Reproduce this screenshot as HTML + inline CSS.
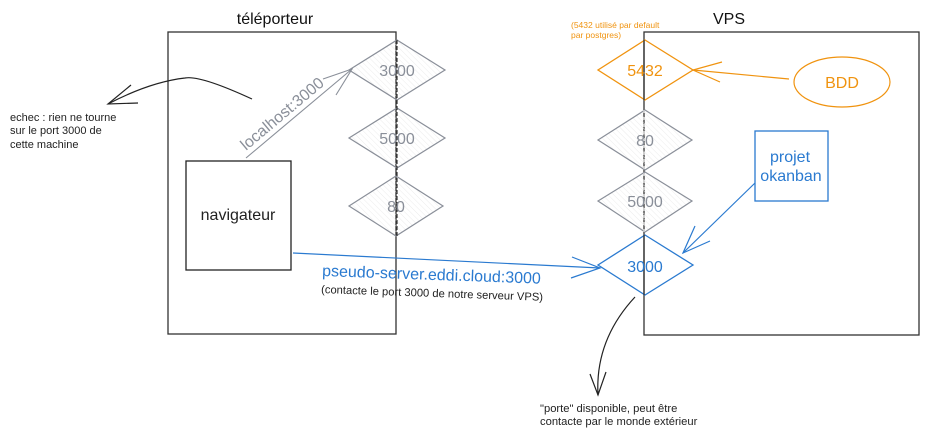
<!DOCTYPE html>
<html><head><meta charset="utf-8"><style>body{margin:0;background:#fff}svg{display:block}text{font-family:"Liberation Sans",sans-serif}</style></head><body>
<svg width="929" height="438" viewBox="0 0 929 438" xmlns="http://www.w3.org/2000/svg">
<defs><pattern id="h" width="4" height="4" patternUnits="userSpaceOnUse" patternTransform="rotate(-45)"><line x1="0" y1="0" x2="0" y2="4" stroke="#e8e8e8" stroke-width="0.8"/></pattern></defs>
<rect width="929" height="438" fill="#fff"/>
<text x="275" y="24" font-size="16" text-anchor="middle" fill="#111">téléporteur</text>
<text x="729" y="24" font-size="16" text-anchor="middle" fill="#111">VPS</text>
<rect x="168" y="32" width="228" height="302" fill="none" stroke="#333" stroke-width="1.3"/>
<rect x="644" y="32" width="275" height="303" fill="none" stroke="#333" stroke-width="1.3"/>
<g stroke="#8a8f99" stroke-width="1.2" fill="url(#h)">
<polygon points="397,40 445,70 397,100 349,70"/>
<polygon points="397,108 445,138 397,168 349,138"/>
<polygon points="396,176 443,206 396,236 349,206"/>
<polygon points="645,110 692,140 645,170 598,140"/>
<polygon points="645,172 692,201 645,232 598,201"/>
</g>
<line x1="397" y1="40" x2="397" y2="236" stroke="#333" stroke-width="1.2" stroke-dasharray="4,2"/>
<line x1="644" y1="110" x2="644" y2="232" stroke="#fff" stroke-width="0.8" stroke-dasharray="3,4"/>
<g font-size="16" fill="#8a8f99" text-anchor="middle">
<text x="397" y="76">3000</text><text x="397" y="144">5000</text><text x="396" y="212">80</text>
<text x="645" y="146">80</text><text x="645" y="207">5000</text>
</g>
<polygon points="645,40 693,70 645,100 598,70" fill="none" stroke="#f0930f" stroke-width="1.3"/>
<line x1="644" y1="40" x2="644" y2="100" stroke="#333" stroke-width="1.3"/>
<text x="645" y="76" font-size="16" fill="#f0930f" text-anchor="middle">5432</text>
<text x="571" y="28" font-size="8.5" fill="#f0930f">(5432 utilisé par default</text>
<text x="571" y="38" font-size="8.5" fill="#f0930f">par postgres)</text>
<ellipse cx="842" cy="82" rx="48" ry="25" fill="none" stroke="#f0930f" stroke-width="1.2"/>
<text x="842" y="88" font-size="16" fill="#f0930f" text-anchor="middle">BDD</text>
<g stroke="#f0930f" stroke-width="1.2" fill="none"><line x1="789" y1="79" x2="693" y2="70"/><path d="M722,62 L693,70 L720,82"/></g>
<polygon points="645,235 693,265 645,295 598,265" fill="none" stroke="#2a7ad0" stroke-width="1.3"/>
<line x1="644" y1="235" x2="644" y2="295" stroke="#333" stroke-width="1.3"/>
<text x="645" y="272" font-size="16" fill="#2a7ad0" text-anchor="middle">3000</text>
<rect x="755" y="131" width="73" height="70" fill="none" stroke="#2a7ad0" stroke-width="1.3"/>
<text x="790" y="162" font-size="16" fill="#2a7ad0" text-anchor="middle">projet</text>
<text x="791" y="181" font-size="16" fill="#2a7ad0" text-anchor="middle">okanban</text>
<g stroke="#2a7ad0" stroke-width="1.2" fill="none">
<line x1="755" y1="183" x2="683" y2="253"/><path d="M695,226 L683,253 L710,241"/>
<line x1="293" y1="253" x2="600" y2="268"/><path d="M572,257 L600,268 L571,278"/>
</g>
<text x="322" y="276" font-size="16" fill="#2a7ad0" transform="rotate(2 322 276)">pseudo-server.eddi.cloud:3000</text>
<text x="321" y="293" font-size="11.2" fill="#222" transform="rotate(2 321 293)">(contacte le port 3000 de notre serveur VPS)</text>
<rect x="186" y="161" width="105" height="109" fill="#fff" stroke="#222" stroke-width="1.3"/>
<text x="238" y="220" font-size="16" fill="#222" text-anchor="middle">navigateur</text>
<g stroke="#8a8f99" stroke-width="1.1" fill="none"><line x1="246" y1="158" x2="352" y2="69"/><path d="M323,79 L352,69 L336,95"/></g>
<text x="246" y="151" font-size="16" fill="#8a8f99" transform="rotate(-40 246 151)">localhost:3000</text>
<g stroke="#222" stroke-width="1.2" fill="none"><path d="M252,99 Q200,75 185,78 Q150,82 108,104"/><path d="M131,85 L108,104 L138,103"/>
<path d="M635,297 Q595,340 598,395"/><path d="M590,374 L598,395 L606,372"/></g>
<g font-size="11" fill="#222"><text x="10" y="121">echec : rien ne tourne</text><text x="10" y="134">sur le port 3000 de</text><text x="10" y="148">cette machine</text>
<g font-size="11.2"><text x="540" y="412">"porte" disponible, peut être</text><text x="540" y="425">contacte par le monde extérieur</text></g></g>
</svg>
</body></html>
